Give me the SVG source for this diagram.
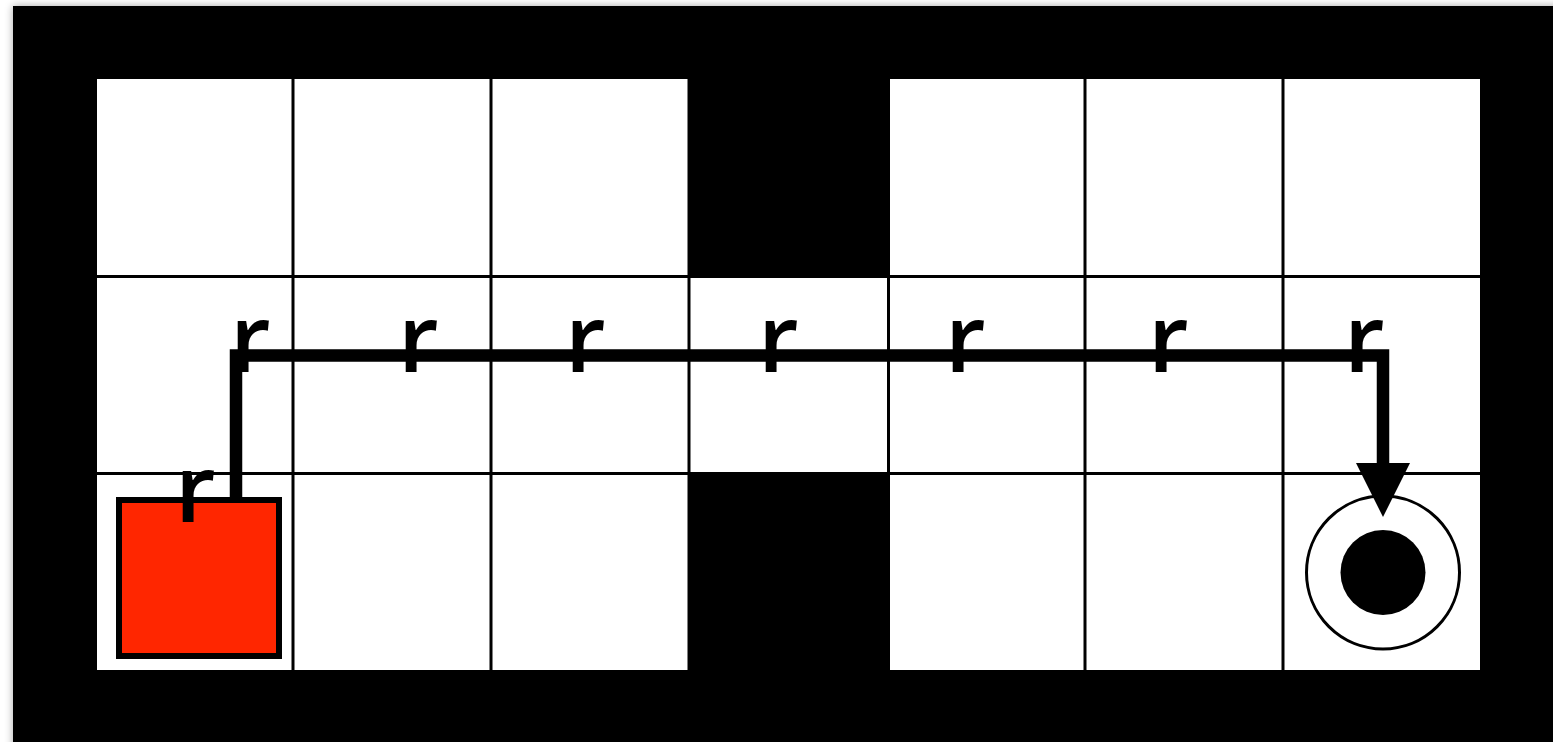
<svg xmlns="http://www.w3.org/2000/svg" width="1553" height="742" viewBox="0 0 1553 742">
  <defs>
    <filter id="shadow" x="-5%" y="-5%" width="110%" height="110%">
      <feGaussianBlur in="SourceAlpha" stdDeviation="4"/>
      <feComponentTransfer><feFuncA type="linear" slope="0.35"/></feComponentTransfer>
      <feMerge><feMergeNode/><feMergeNode in="SourceGraphic"/></feMerge>
    </filter>
  </defs>
  <style>
    .grid { stroke: #000; stroke-width: 3; fill: none; }
    .lbl { font-family: "Open Sans", "Liberation Sans", sans-serif; font-weight: 600; font-size: 94px; fill: #000; text-anchor: start; }
    .path { stroke: #000; stroke-width: 12.5; fill: none; stroke-linejoin: miter; }
  </style>
  <rect x="0" y="0" width="1553" height="742" fill="#fff"/>
  <g id="frame">
    <rect x="13" y="6" width="1560" height="760" fill="#000" filter="url(#shadow)"/>
  </g>
  <g id="floor">
    <rect x="97" y="79" width="1383" height="591" fill="#fff"/>
    <rect x="689" y="79" width="200" height="197" fill="#000"/>
    <rect x="689" y="474" width="200" height="196" fill="#000"/>
    <g class="grid">
      <line x1="293" y1="79" x2="293" y2="670"/>
      <line x1="491" y1="79" x2="491" y2="670"/>
      <line x1="689" y1="79" x2="689" y2="670"/>
      <line x1="888.5" y1="79" x2="888.5" y2="670"/>
      <line x1="1085" y1="79" x2="1085" y2="670"/>
      <line x1="1283" y1="79" x2="1283" y2="670"/>
      <line x1="97" y1="276.5" x2="1480" y2="276.5"/>
      <line x1="97" y1="473.5" x2="1480" y2="473.5"/>
    </g>
  </g>
  <g id="goal">
    <circle cx="1383" cy="572.5" r="76.5" fill="#fff" stroke="#000" stroke-width="3"/>
    <circle cx="1383" cy="572.5" r="42.5" fill="#000"/>
  </g>
  <g id="agent">
    <rect x="119" y="500" width="160" height="156" fill="#ff2600" stroke="#000" stroke-width="6"/>
  </g>
  <g id="connectors">
    <path class="path" d="M236 498 V355.5 H1383 V464"/>
    <polygon points="1356,463 1410,463 1383,517" fill="#000"/>
  </g>
  <g id="labels">
    <text class="lbl" x="175" y="522">r</text>
    <text class="lbl" x="230" y="372">r</text>
    <text class="lbl" x="398" y="372">r</text>
    <text class="lbl" x="565" y="372">r</text>
    <text class="lbl" x="758" y="372">r</text>
    <text class="lbl" x="945" y="372">r</text>
    <text class="lbl" x="1148" y="372">r</text>
    <text class="lbl" x="1344" y="372">r</text>
  </g>
</svg>
